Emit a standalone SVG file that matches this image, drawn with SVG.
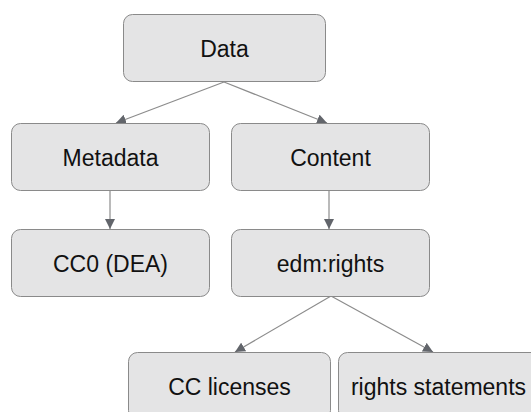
<svg xmlns="http://www.w3.org/2000/svg" width="531" height="412" viewBox="0 0 531 412">
<style>
.box{fill:#e4e4e5;stroke:#8a8a8a;stroke-width:1}
.lbl{font-family:"Liberation Sans",Arial,sans-serif;font-size:23px;fill:#111;text-anchor:middle}
.edge{stroke:#8c8c8c;stroke-width:1.2;fill:none;marker-end:url(#ah)}
</style>
<defs>
<marker id="ah" viewBox="0 0 10 10" refX="10" refY="5" markerWidth="10" markerHeight="10" markerUnits="userSpaceOnUse" orient="auto">
<path d="M0,0 L10,5 L0,10 z" fill="#62656b"/>
</marker>
</defs>
<rect width="531" height="412" fill="#fff"/>
<g id="connectors">
<line class="edge" x1="224" y1="82" x2="116" y2="123"/>
<line class="edge" x1="224" y1="82" x2="327" y2="123"/>
<line class="edge" x1="110" y1="190" x2="110" y2="229"/>
<line class="edge" x1="329" y1="190" x2="329" y2="229"/>
<line class="edge" x1="331" y1="296" x2="235" y2="352"/>
<line class="edge" x1="331" y1="296" x2="433" y2="352"/>
</g>
<g id="data"><rect class="box" x="123.5" y="14.5" width="202" height="67" rx="9"/><text class="lbl" x="224.5" y="57">Data</text></g>
<g id="metadata"><rect class="box" x="11.5" y="123.5" width="198" height="67" rx="9"/><text class="lbl" x="110.5" y="166">Metadata</text></g>
<g id="content"><rect class="box" x="231.5" y="123.5" width="198" height="67" rx="9"/><text class="lbl" x="330.5" y="166">Content</text></g>
<g id="cc0"><rect class="box" x="11.5" y="229.5" width="198" height="67" rx="9"/><text class="lbl" x="110.5" y="272">CC0 (DEA)</text></g>
<g id="edmrights"><rect class="box" x="231.5" y="229.5" width="198" height="67" rx="9"/><text class="lbl" x="330.5" y="272">edm:rights</text></g>
<g id="cclicenses"><rect class="box" x="128.5" y="352.5" width="202" height="67" rx="9"/><text class="lbl" x="229.5" y="395">CC licenses</text></g>
<g id="rightsstatements"><rect class="box" x="338.5" y="352.5" width="202" height="67" rx="9"/><text class="lbl" x="438.5" y="395">rights statements</text></g>
</svg>
